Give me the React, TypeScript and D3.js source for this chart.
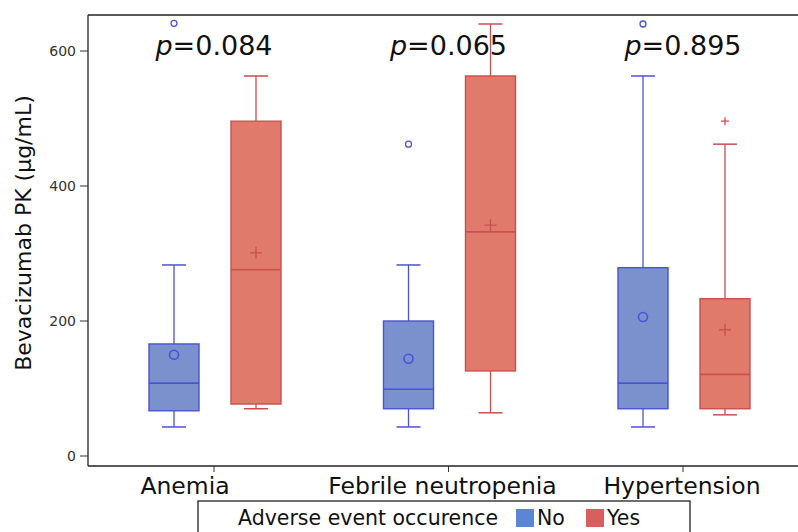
import React from "react";
import * as d3 from "d3";

const categories = ["Anemia", "Febrile neutropenia", "Hypertension"];
const groups = ["No", "Yes"];
const pValues = ["0.084", "0.065", "0.895"];
const yTicks = [0, 200, 400, 600];

// [category, group, whiskerLow, q1, median, q3, whiskerHigh, mean]
const boxStats: [string, string, number, number, number, number, number, number][] = [
  ["Anemia", "No", 43, 67, 108, 166, 283, 150],
  ["Anemia", "Yes", 70, 77, 276, 496, 563, 301],
  ["Febrile neutropenia", "No", 43, 70, 99, 200, 283, 144],
  ["Febrile neutropenia", "Yes", 64, 126, 332, 563, 640, 342],
  ["Hypertension", "No", 43, 70, 108, 279, 563, 206],
  ["Hypertension", "Yes", 61, 70, 121, 233, 462, 187],
];
// [category, group, value]
const outliers: [string, string, number][] = [
  ["Anemia", "No", 641],
  ["Febrile neutropenia", "No", 462],
  ["Hypertension", "No", 640],
  ["Hypertension", "Yes", 496],
];

const W = 798, H = 532;
const left = 88, top = 15, right = 798, bottom = 466;
const FONT = "DejaVu Sans, Verdana, sans-serif";
const labelShift = [-30, -7, -2];

const fills: Record<string, string> = { No: "#7a91cd", Yes: "#e07b6c" };
const strokes: Record<string, string> = { No: "#4b52d8", Yes: "#c9504f" };
const swatch: Record<string, string> = { No: "#5b86d6", Yes: "#d95f5f" };

export default function App() {
  const y = d3.scaleLinear().domain([0, 600]).range([456, 51]);
  const x = d3.scalePoint<string>().domain(categories).range([215, 684]);
  const xg = d3.scaleBand<string>().domain(groups).range([-66, 66]).paddingInner(0.39).paddingOuter(0);
  const bw = xg.bandwidth();
  const cx = (c: string, g: string) => (x(c) as number) + (xg(g) as number) + bw / 2;

  return (
    <svg width={W} height={H} style={{ position: "absolute", left: 0, top: 0, background: "#fff" }}>
      <rect x={0} y={0} width={W} height={H} fill="#fff" />
      {/* frame */}
      <line x1={left} y1={top} x2={right} y2={top} stroke="#222" strokeWidth={1.3} />
      <line x1={left} y1={top} x2={left} y2={bottom} stroke="#222" strokeWidth={1.3} />
      <line x1={left} y1={bottom} x2={right} y2={bottom} stroke="#222" strokeWidth={1.3} />
      {/* y axis */}
      {yTicks.map((t) => (
        <g key={t}>
          <line x1={left - 8} x2={left} y1={y(t)} y2={y(t)} stroke="#333" strokeWidth={1} />
          <text x={left - 12} y={y(t)} dy="0.35em" textAnchor="end" fontSize={14} fill="#333" fontFamily={FONT}>
            {t}
          </text>
        </g>
      ))}
      <text
        transform={`translate(23,233) rotate(-90)`}
        textAnchor="middle"
        fontSize={22}
        fill="#111"
        fontFamily={FONT}
        dy="0.35em"
      >
        Bevacizumab PK (µg/mL)
      </text>
      {/* x axis */}
      {categories.map((c, i) => (
        <g key={c}>
          <line x1={(x(c) as number) - 1} x2={(x(c) as number) - 1} y1={bottom} y2={bottom + 6} stroke="#333" strokeWidth={1} />
          <text x={(x(c) as number) + labelShift[i]} y={494} textAnchor="middle" fontSize={23.5} fill="#111" fontFamily={FONT}>
            {c}
          </text>
          <text x={(x(c) as number) - 1} y={55} textAnchor="middle" fontSize={27} fill="#111" fontFamily={FONT}>
            <tspan fontStyle="italic">p</tspan>={pValues[i]}
          </text>
        </g>
      ))}
      {/* boxes */}
      {boxStats.map(([c, g, lo, q1, med, q3, hi, mean]) => {
        const m = cx(c, g);
        const x0 = m - bw / 2;
        const st = strokes[g];
        return (
          <g key={c + g}>
            <line x1={m} x2={m} y1={y(hi)} y2={y(q3)} stroke={st} strokeWidth={1.3} />
            <line x1={m} x2={m} y1={y(q1)} y2={y(lo)} stroke={st} strokeWidth={1.3} />
            <line x1={m - 12} x2={m + 12} y1={y(hi)} y2={y(hi)} stroke={st} strokeWidth={1.5} />
            <line x1={m - 12} x2={m + 12} y1={y(lo)} y2={y(lo)} stroke={st} strokeWidth={1.5} />
            <rect x={x0} y={y(q3)} width={bw} height={y(q1) - y(q3)} fill={fills[g]} stroke={st} strokeWidth={1.4} />
            <line x1={x0} x2={x0 + bw} y1={y(med)} y2={y(med)} stroke={st} strokeWidth={1.6} />
            {g === "No" ? (
              <circle cx={m} cy={y(mean)} r={4.5} fill="none" stroke={st} strokeWidth={1.6} />
            ) : (
              <path d={`M${m - 6},${y(mean)}H${m + 6}M${m},${y(mean) - 6}V${y(mean) + 6}`} stroke={st} strokeWidth={1.4} />
            )}
          </g>
        );
      })}
      {outliers.map(([c, g, v], i) => {
        const m = cx(c, g);
        const st = strokes[g];
        return g === "No" ? (
          <circle key={i} cx={m} cy={y(v)} r={3} fill="none" stroke={st} strokeWidth={1.3} />
        ) : (
          <path key={i} d={`M${m - 4},${y(v)}H${m + 4}M${m},${y(v) - 4}V${y(v) + 4}`} stroke={st} strokeWidth={1.3} />
        );
      })}
      {/* legend */}
      <rect x={198} y={501} width={492} height={40} fill="#fff" stroke="#222" strokeWidth={1.3} />
      <text x={238} y={525} fontSize={20.5} fill="#111" fontFamily={FONT}>
        Adverse event occurence
      </text>
      <rect x={516} y={509} width={18} height={18} fill={swatch.No} />
      <text x={537} y={525} fontSize={20.5} fill="#111" fontFamily={FONT}>No</text>
      <rect x={586} y={509} width={18} height={18} fill={swatch.Yes} />
      <text x={607} y={525} fontSize={20.5} fill="#111" fontFamily={FONT}>Yes</text>
    </svg>
  );
}
